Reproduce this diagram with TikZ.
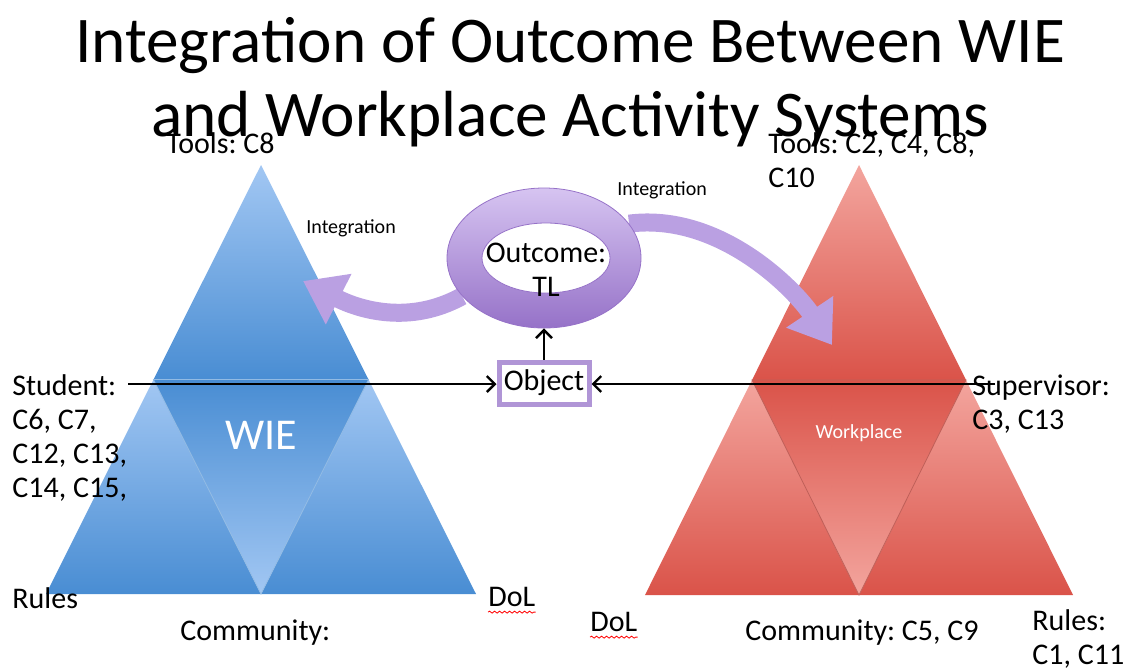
\documentclass[tikz,border=0pt]{standalone}
\usepackage{fontspec}
\setmainfont{Carlito}
\frenchspacing
\usetikzlibrary{calc,shapes.geometric,arrows.meta,decorations.pathmorphing}
\definecolor{wieLight}{RGB}{162,199,243}
\definecolor{wieDark}{RGB}{73,141,211}
\definecolor{wpLight}{RGB}{243,165,158}
\definecolor{wpDark}{RGB}{218,83,73}
\definecolor{outLight}{RGB}{214,196,241}
\definecolor{outDark}{RGB}{150,114,200}
\definecolor{fatArrow}{RGB}{186,160,226}
\begin{document}
\begin{tikzpicture}[x=0.5pt, y=-0.5pt,
    lbl/.style={font=\fontsize{15}{17}\selectfont, inner sep=0pt, align=left},
    small/.style={font=\fontsize{10}{12}\selectfont, inner sep=0pt},
    link/.style={line width=1.2pt, -{Straight Barb[length=4pt,width=8pt]}},
    fat/.style={fatArrow, line width=9pt, -{Triangle[length=20pt,width=27pt]}}]
\useasboundingbox (0,0) rectangle (1127,670);

\node[font=\fontsize{32.6}{37}\selectfont, align=center, inner sep=0pt] (title) at (570,82)
    {Integration of Outcome Between WIE\\and Workplace Activity Systems};

% WIE triangle
\coordinate (wT) at (261,165);
\coordinate (wL) at (46,594);
\coordinate (wR) at (476,594);
\coordinate (wML) at ($(wT)!0.5!(wL)$);
\coordinate (wMR) at ($(wT)!0.5!(wR)$);
\coordinate (wB) at ($(wL)!0.5!(wR)$);
\shade[top color=wieLight, bottom color=wieDark] (wT) -- (wMR) -- (wML) -- cycle;
\shade[top color=wieLight, bottom color=wieDark] (wML) -- (wB) -- (wL) -- cycle;
\shade[top color=wieLight, bottom color=wieDark] (wMR) -- (wR) -- (wB) -- cycle;
\shade[top color=wieDark, bottom color=wieLight] (wML) -- (wMR) -- (wB) -- cycle;
\draw[wieDark!60!white, line width=0.4pt] (wML) -- (wMR) -- (wB) -- cycle;
\node[text=white, font=\fontsize{22}{26}\selectfont, inner sep=0pt] (wie) at (261,435) {WIE};

% Workplace triangle
\coordinate (pT) at (859,165);
\coordinate (pL) at (645,595);
\coordinate (pR) at (1073,595);
\coordinate (pML) at ($(pT)!0.5!(pL)$);
\coordinate (pMR) at ($(pT)!0.5!(pR)$);
\coordinate (pB) at ($(pL)!0.5!(pR)$);
\shade[top color=wpLight, bottom color=wpDark] (pT) -- (pMR) -- (pML) -- cycle;
\shade[top color=wpLight, bottom color=wpDark] (pML) -- (pB) -- (pL) -- cycle;
\shade[top color=wpLight, bottom color=wpDark] (pMR) -- (pR) -- (pB) -- cycle;
\shade[top color=wpDark, bottom color=wpLight] (pML) -- (pMR) -- (pB) -- cycle;
\draw[wpDark!70!gray, line width=0.4pt] (pML) -- (pMR) -- (pB) -- cycle;
\node[text=white, font=\fontsize{10}{12}\selectfont, inner sep=0pt] (wplace) at (859,433) {Workplace};

% outcome ring and the two integration arrows
\node[ellipse, minimum width=97pt, minimum height=70pt, inner sep=0pt] (ring) at (544,258) {};
\coordinate (tipW) at (303,281);
\coordinate (tipP) at (832,345);
\draw[fat] (ring.205) .. controls (410,325) and (360,310) .. (tipW);
\draw[fat] (ring.22) .. controls (720,212) and (795,290) .. (tipP);
\shade[top color=outLight, bottom color=outDark, draw=outDark, line width=0.4pt]
    (ring.center) ellipse [x radius=97, y radius=70];
\node[ellipse, fill=white, draw=outDark, line width=0.4pt, minimum width=64pt, minimum height=35pt, inner sep=0pt] (hole) at (546,258) {};
\node[lbl, align=center] (outtxt) at (546,270) {Outcome:\\TL};

\node[lbl, draw=outDark!75!white, line width=2.5pt, fill=white, minimum width=45pt, minimum height=21pt] (object) at (544,383) {Object};

% student and supervisor lines
\coordinate (stuEnd) at (128,384);
\coordinate (supEnd) at (995,384);
\draw[link] (stuEnd) -- (stuEnd -| object.west);
\draw[link] (supEnd) -- (supEnd -| object.east);
\draw[link] (object) -- (ring);

% labels
\node[lbl, anchor=west] (toolsW) at (166,143) {Tools: C8};
\node[small, anchor=west] (integW) at (306,228) {Integration};
\node[lbl, anchor=west] (toolsP) at (768,160) {Tools: C2, C4, C8,\\C10};
\node[small, anchor=west] (integP) at (617,190) {Integration};
\node[lbl, anchor=west] (student) at (12,438) {Student:\\C6, C7,\\C12, C13,\\C14, C15,};
\node[lbl, anchor=west] (super) at (972,404) {Supervisor:\\C3, C13};
\node[lbl, anchor=west] (rulesW) at (12,598) {Rules};
\node[lbl, anchor=west] (dolW) at (488,597) {DoL};
\node[lbl, anchor=west] (commW) at (180,633) {Community:};
\node[lbl, anchor=west] (dolP) at (590,622) {DoL};
\node[lbl, anchor=west] (commP) at (745,633) {Community: C5, C9};
\node[lbl, anchor=west] (rulesP) at (1032,639) {Rules:\\C1, C11};

% spelling marks
\draw[red, line width=0.4pt, decorate, decoration={snake, amplitude=0.5pt, segment length=2.5pt}]
    ($(dolW.south west)+(0,5)$) -- ($(dolW.south east)+(0,5)$);
\draw[red, line width=0.4pt, decorate, decoration={snake, amplitude=0.5pt, segment length=2.5pt}]
    ($(dolP.south west)+(0,5)$) -- ($(dolP.south east)+(0,5)$);
\end{tikzpicture}
\end{document}
